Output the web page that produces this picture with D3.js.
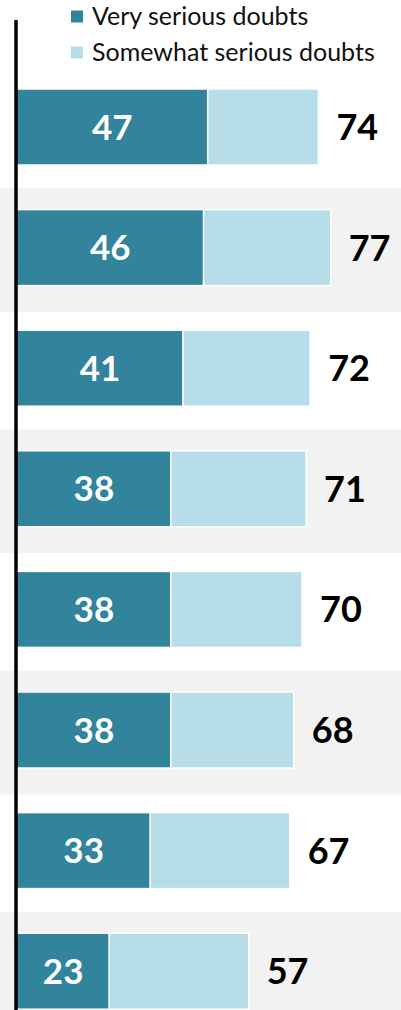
<!DOCTYPE html>
<meta charset="utf-8">
<style>
body { margin: 0; background: #fff; }
svg text { font-family: Lato, "Open Sans", sans-serif; }
.legend text { font-size: 25px; fill: #111; }
.inner { font-size: 35px; font-weight: bold; fill: #fff; }
.total { font-size: 36px; font-weight: bold; fill: #000; }
</style>
<svg width="401" height="1010"></svg>
<script src="https://d3js.org/d3.v7.min.js"></script>
<script>
var rows = ["r1", "r2", "r3", "r4", "r5", "r6", "r7", "r8"];
var verySerious = [47, 46, 41, 38, 38, 38, 33, 23];
var totals = [74, 77, 72, 71, 70, 68, 67, 57];
var seriesNames = ["Very serious doubts", "Somewhat serious doubts"];
var colors = ["#31849b", "#b7dde8"];

var svg = d3.select("svg"),
    width = +svg.attr("width"),
    height = +svg.attr("height");

var data = rows.map(function(r, i) {
  return { row: r, very: verySerious[i], somewhat: totals[i] - verySerious[i], total: totals[i] };
});

var x = d3.scaleLinear().domain([0, 100]).range([15, 425]);
var y = d3.scaleBand().domain(rows).range([66.7, 66.7 + rows.length * 120.6]);
var barH = 76;

var stack = d3.stack().keys(["very", "somewhat"])(data);

// alternating shaded rows
svg.append("g").selectAll("rect")
    .data(data.filter(function(d, i) { return i % 2 == 1; }))
  .enter().append("rect")
    .attr("x", 0)
    .attr("width", width)
    .attr("y", function(d) { return y(d.row) + 1; })
    .attr("height", y.bandwidth() + 3)
    .attr("fill", "#f2f2f2");

svg.append("g").selectAll("g")
    .data(stack)
  .enter().append("g")
    .attr("fill", function(d, i) { return colors[i]; })
  .selectAll("rect")
    .data(function(d) { return d; })
  .enter().append("rect")
    .attr("x", function(d) { return x(d[0]); })
    .attr("width", function(d) { return x(d[1]) - x(d[0]); })
    .attr("y", function(d) { return y(d.data.row) + (y.bandwidth() - barH) / 2; })
    .attr("height", barH)
    .attr("stroke", "#fff")
    .attr("stroke-width", 1.5);

// value inside dark segment
svg.append("g").selectAll("text")
    .data(data)
  .enter().append("text")
    .attr("class", "inner")
    .attr("x", function(d) { return (x(0) + x(d.very)) / 2 + 1; })
    .attr("y", function(d) { return y(d.row) + y.bandwidth() / 2; })
    .attr("dy", "0.36em")
    .attr("text-anchor", "middle")
    .text(function(d) { return d.very; });

// total at bar end
svg.append("g").selectAll("text")
    .data(data)
  .enter().append("text")
    .attr("class", "total")
    .attr("x", function(d) { return x(d.total) + 18; })
    .attr("y", function(d) { return y(d.row) + y.bandwidth() / 2; })
    .attr("dy", "0.36em")
    .text(function(d) { return d.total; });

// vertical baseline
svg.append("line")
    .attr("x1", 16).attr("x2", 16)
    .attr("y1", 20).attr("y2", height)
    .attr("stroke", "#000")
    .attr("stroke-width", 3.5);

var legend = svg.append("g").attr("class", "legend")
  .selectAll("g")
    .data(seriesNames)
  .enter().append("g")
    .attr("transform", function(d, i) { return "translate(71," + (10.5 + i * 36) + ")"; });

legend.append("rect")
    .attr("width", 12).attr("height", 12)
    .attr("fill", function(d, i) { return colors[i]; });

legend.append("text")
    .attr("x", 21)
    .attr("y", 14.5)
    .text(function(d) { return d; });
</script>
